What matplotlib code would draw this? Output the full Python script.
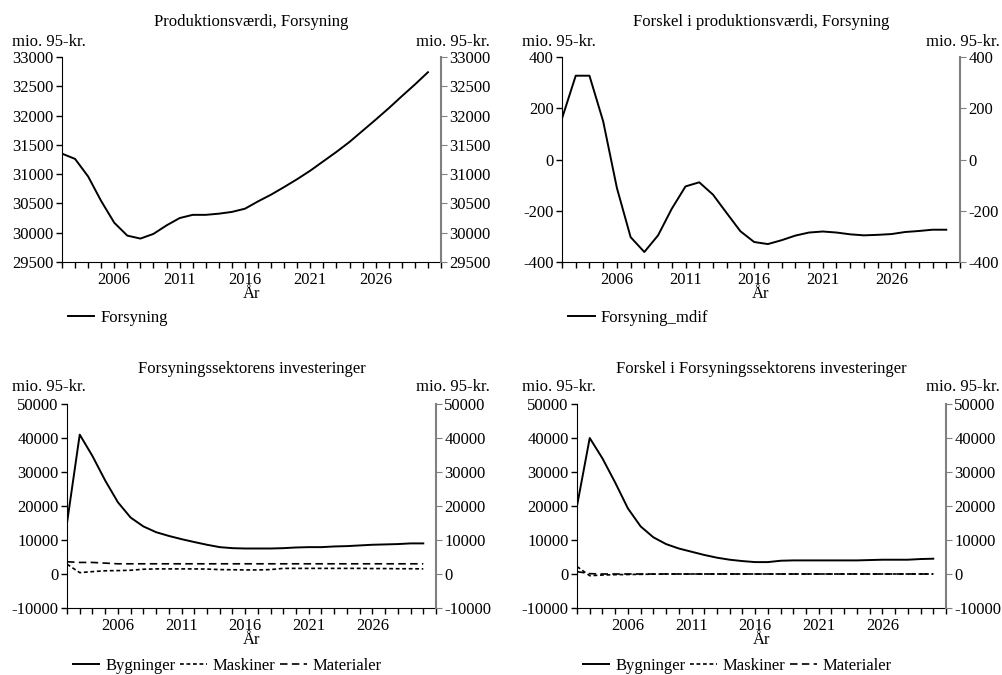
import numpy as np
import matplotlib.pyplot as plt
from matplotlib.ticker import MultipleLocator, FixedLocator

plt.rcParams['font.family'] = ['Liberation Serif', 'DejaVu Serif']
plt.rcParams['font.size'] = 12
plt.rcParams['axes.unicode_minus'] = False

years = np.arange(2002, 2031)

# Produktionsværdi, Forsyning (mio. 95-kr.)
forsyning = [31350, 31260, 30960, 30540, 30170, 29950, 29900, 29980, 30125, 30250,
             30305, 30305, 30325, 30355, 30410, 30535, 30650, 30780, 30915, 31060,
             31220, 31380, 31550, 31740, 31930, 32125, 32330, 32530, 32740]

# Forskel i produktionsværdi
forsyning_mdif = [160, 327, 327, 149, -111, -303, -361, -296, -192, -105,
                  -89, -137, -209, -280, -322, -330, -315, -297, -285, -281,
                  -285, -292, -296, -294, -291, -283, -279, -274, -274]

# Forsyningssektorens investeringer
bygninger = [15000, 41000, 34700, 27500, 21100, 16600, 14000, 12300, 11200, 10250,
             9400, 8600, 7900, 7600, 7500, 7500, 7500, 7600, 7800, 7900,
             7900, 8100, 8200, 8400, 8600, 8700, 8800, 9000, 9000]
maskiner = [2900, 400, 700, 950, 1000, 1100, 1400, 1500, 1500, 1500,
            1500, 1450, 1300, 1250, 1200, 1200, 1300, 1650, 1650, 1650,
            1650, 1650, 1650, 1650, 1600, 1600, 1550, 1550, 1500]
materialer = [3600, 3400, 3400, 3200, 3000, 3000, 3000, 3000, 3000, 3000,
              3000, 3000, 3000, 3000, 3000, 3000, 3000, 3000, 3000, 3000,
              3000, 3000, 3000, 3000, 3000, 3000, 3000, 3000, 3000]

# Forskel i investeringer
bygninger_dif = [20000, 40000, 34000, 26900, 19300, 14000, 10800, 8800, 7500, 6550,
                 5600, 4800, 4200, 3800, 3500, 3500, 3900, 4000, 4000, 4000,
                 4000, 4000, 4000, 4100, 4200, 4200, 4200, 4400, 4500]
maskiner_dif = [2200, -500, -300, -200, -150, -100, -50, 0, 0, 0,
                0, 0, 0, 0, 0, 0, 0, 0, 0, 0,
                0, 0, 0, 0, 0, 0, 0, 0, 0]
materialer_dif = [700, 100, 0, 0, 0, 0, 0, 0, 0, 0,
                  0, 0, 0, 0, 0, 0, 0, 0, 0, 0,
                  0, 0, 0, 0, 0, 0, 0, 0, 0]

W, H = 1002, 675


def make_axes(fig, left, top, right, bottom):
    return fig.add_axes([left / W, 1 - bottom / H, (right - left) / W, (bottom - top) / H])


def style(ax, ylim, ystep, title, lines, labels, unit_y, unit_left, unit_right, legend_y):
    ax.set_xlim(2002, 2031)
    ax.set_ylim(*ylim)
    ax.yaxis.set_major_locator(MultipleLocator(ystep))
    ax.xaxis.set_major_locator(FixedLocator([2006, 2011, 2016, 2021, 2026]))
    ax.xaxis.set_minor_locator(MultipleLocator(1))
    ax.spines['top'].set_visible(False)
    ax.spines['right'].set_visible(False)
    ax.tick_params(axis='both', which='both', direction='out', length=4, width=1)
    ax.tick_params(axis='y', pad=2)
    ax.tick_params(axis='x', pad=3)

    ax2 = ax.twinx()
    ax2.set_ylim(*ylim)
    ax2.yaxis.set_major_locator(MultipleLocator(ystep))
    for s in ['top', 'left', 'bottom']:
        ax2.spines[s].set_visible(False)
    ax2.spines['right'].set_color('#808080')
    ax2.spines['right'].set_linewidth(1.5)
    ax2.tick_params(axis='y', direction='out', length=4, color='#808080', pad=2)

    ax.set_title(title, fontsize=12, pad=22)
    fig = ax.figure
    fig.text(unit_left / W, 1 - unit_y / H, 'mio. 95-kr.', ha='left', va='center')
    fig.text(unit_right / W, 1 - unit_y / H, 'mio. 95-kr.', ha='right', va='center')
    ax.set_xlabel('År', labelpad=-1)
    ax.legend(lines, labels, loc='center left', bbox_to_anchor=(0.015, legend_y),
              frameon=False, ncol=3, handlelength=1.6, handletextpad=0.35,
              columnspacing=0.3, borderpad=0, borderaxespad=0)


fig = plt.figure(figsize=(W / 100, H / 100), dpi=100)

# Øverst til venstre
ax = make_axes(fig, 62, 57, 441, 262)
l1, = ax.plot(years, forsyning, color='black', lw=1.4)
style(ax, (29500, 33000), 500, 'Produktionsværdi, Forsyning', [l1], ['Forsyning'],
      42, 12, 490, -0.273)

# Øverst til højre
ax = make_axes(fig, 562, 57, 960, 262)
l1, = ax.plot(years, forsyning_mdif, color='black', lw=1.4)
style(ax, (-400, 400), 200, 'Forskel i produktionsværdi, Forsyning', [l1], ['Forsyning_mdif'],
      42, 522, 1000, -0.273)

# Nederst til venstre
ax = make_axes(fig, 67, 404, 436, 608)
l1, = ax.plot(years, bygninger, color='black', lw=1.4)
l2, = ax.plot(years, maskiner, color='black', lw=1.2, dashes=(2.3, 1.6))
l3, = ax.plot(years, materialer, color='black', lw=1.2, dashes=(4.5, 2.6))
style(ax, (-10000, 50000), 10000, 'Forsyningssektorens investeringer',
      [l1, l2, l3], ['Bygninger', 'Maskiner', 'Materialer'], 387, 12, 490, -0.284)

# Nederst til højre
ax = make_axes(fig, 577, 404, 946, 608)
l1, = ax.plot(years, bygninger_dif, color='black', lw=1.4)
l2, = ax.plot(years, maskiner_dif, color='black', lw=1.2, dashes=(2.3, 1.6))
l3, = ax.plot(years, materialer_dif, color='black', lw=1.2, dashes=(4.5, 2.6))
style(ax, (-10000, 50000), 10000, 'Forskel i Forsyningssektorens investeringer',
      [l1, l2, l3], ['Bygninger', 'Maskiner', 'Materialer'], 387, 522, 1000, -0.284)

fig.savefig('out.png', dpi=100)
